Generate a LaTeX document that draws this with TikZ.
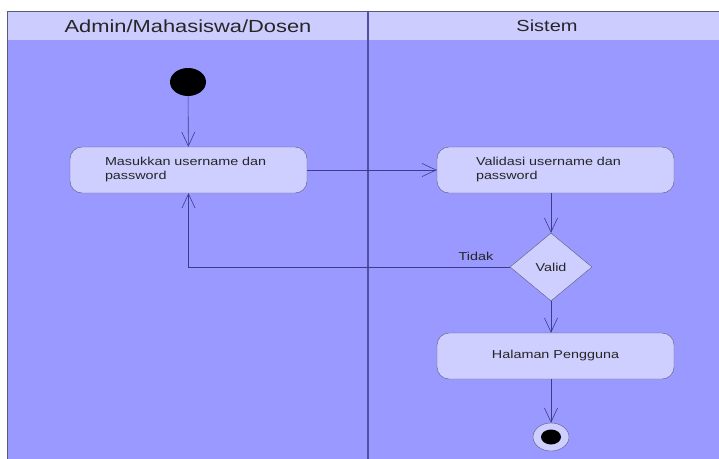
\documentclass[tikz,border=0pt]{standalone}
\usepackage{fontspec}
\setmainfont{Liberation Sans}[FakeStretch=1.25]
\usepackage{tikz}
\usetikzlibrary{arrows.meta,shapes.geometric,positioning}
\definecolor{lajur}{RGB}{153,153,255}
\definecolor{kepala}{RGB}{204,204,255}
\definecolor{kotak}{RGB}{206,206,255}
\definecolor{garis}{RGB}{60,60,140}
\definecolor{tepi}{RGB}{90,90,120}

\begin{document}
\begin{tikzpicture}[x=1pt,y=-1pt,
    aktivitas/.style={draw=tepi,fill=kotak,rounded corners=12pt,minimum width=237pt,minimum height=46pt,font=\fontsize{11.5}{14}\selectfont,text=black!85},
    alur/.style={draw=garis,line width=0.6pt,-{Straight Barb[length=14pt,width=13pt]}}]
        \useasboundingbox (0,0) rectangle (719,458);
        % lajur
        \fill[lajur] (7,11) rectangle (725,465);
        \fill[kepala] (7,11) rectangle (725,40);
        \draw[tepi,line width=1pt] (7,465) -- (7,11) -- (725,11);
        \draw[garis!80!lajur,line width=1.5pt] (368,11) -- (368,465);
        \node[font=\fontsize{17.5}{20}\selectfont,text=black!85] (admin) at (188,26) {Admin/Mahasiswa/Dosen};
        \node[font=\fontsize{16}{20}\selectfont,text=black!85] (sistem) at (547,26) {Sistem};
        % aktivitas
        \node[ellipse,fill=black,minimum width=36pt,minimum height=28pt] (mulai) at (188,82) {};
        \node[aktivitas,text width=167pt,inner xsep=35pt,align=left] (masuk) at (188.5,170) {Masukkan username dan\\password};
        \node[aktivitas,text width=159pt,inner xsep=39pt,align=left] (validasi) at (555.5,170) {Validasi username dan\\password};
        \node[diamond,draw=tepi,fill=kotak,minimum width=82pt,minimum height=68pt,inner sep=0pt,font=\fontsize{11.5}{14}\selectfont,text=black!85] (valid) at (551,267) {Valid};
        \node[aktivitas] (halaman) at (555.5,356) {Halaman Pengguna};
        \node[ellipse,draw=tepi,fill=kotak,minimum width=36pt,minimum height=28pt] (akhir) at (551,437) {};
        \node[ellipse,fill=black,minimum width=20pt,minimum height=15pt] (akhirtitik) at (akhir) {};
        \node[font=\fontsize{11.5}{14}\selectfont,text=black!85] (tidak) at (476,256) {Tidak};
        % alur
        \draw[alur] (mulai) -- (masuk);
        \draw[alur] (masuk.east) -- (validasi.west);
        \draw[alur] (validasi.south -| valid.north) -- (valid.north);
        \draw[alur] (valid.west) -| (masuk.south);
        \draw[alur] (valid.south) -- (valid.south |- halaman.north);
        \draw[alur] (halaman.south -| akhir.north) -- (akhir.north);
\end{tikzpicture}
\end{document}
